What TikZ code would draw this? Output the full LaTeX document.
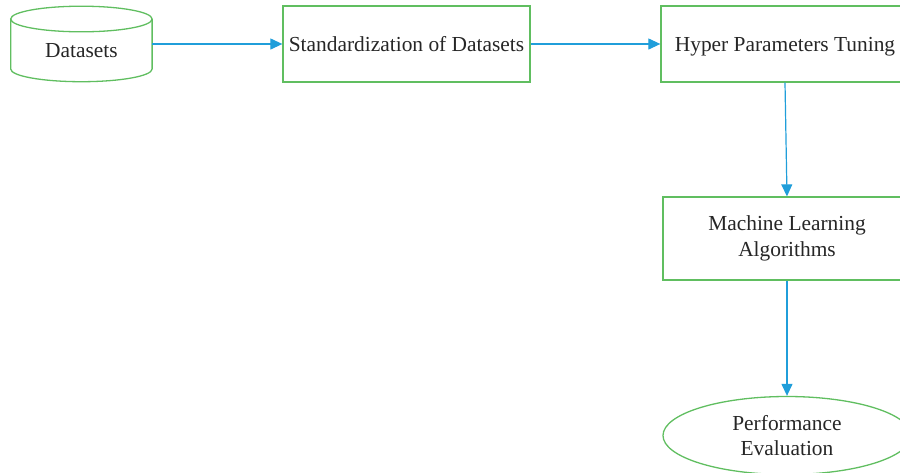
\documentclass[tikz,border=0pt]{standalone}
\usepackage{fontspec}
\setmainfont{Liberation Serif}
\usetikzlibrary{arrows.meta,shapes.geometric}
\definecolor{boxgreen}{RGB}{96,190,96}
\definecolor{arrblue}{RGB}{32,158,218}
\begin{document}
\begin{tikzpicture}[x=1pt,y=-1pt,
  every node/.style={font=\fontsize{21.4}{25.5}\selectfont, text=black!85},
  stepbox/.style={draw=boxgreen, line width=1.3pt, inner sep=0pt, align=center},
  conn/.style={draw=arrblue, line width=1.2pt, -{Triangle[length=12pt,width=11pt]}}]
\useasboundingbox (0,0) rectangle (900,472);
\clip (0,0) rectangle (900,472);
% cylinder
\node[minimum width=141.4pt, minimum height=76pt, inner sep=0pt] (ds) at (81.4,44) {};
\draw[boxgreen, line width=1.3pt] (10.7,19) -- (10.7,69) arc[start angle=180,end angle=0,x radius=70.7,y radius=12.7] -- (152.1,19);
\draw[boxgreen, line width=1.3pt] (81.4,19) ellipse[x radius=70.7,y radius=12.8];
\node (dstext) at (81.4,51) {Datasets};
% boxes
\node[stepbox, minimum width=247pt, minimum height=76pt] (std) at (406.5,44) {Standardization of Datasets};
\node[stepbox, minimum width=248pt, minimum height=76pt] (hpt) at (785,44) {\raisebox{-2.5pt}[\height][\depth]{Hyper Parameters Tuning}};
\node[stepbox, minimum width=248pt, minimum height=83pt] (mla) at (787,238.5) {Machine Learning\\Algorithms};
\node[stepbox, ellipse, minimum width=248pt, minimum height=78pt] (pe) at (787,435.5) {Performance\\Evaluation};
% connectors
\draw[conn] (ds.east) -- (std.west);
\draw[conn] (std.east) -- (hpt.west);
\draw[conn] (hpt.south) -- (mla.north);
\draw[conn] (mla.south) -- (pe.north);
\end{tikzpicture}
\end{document}
